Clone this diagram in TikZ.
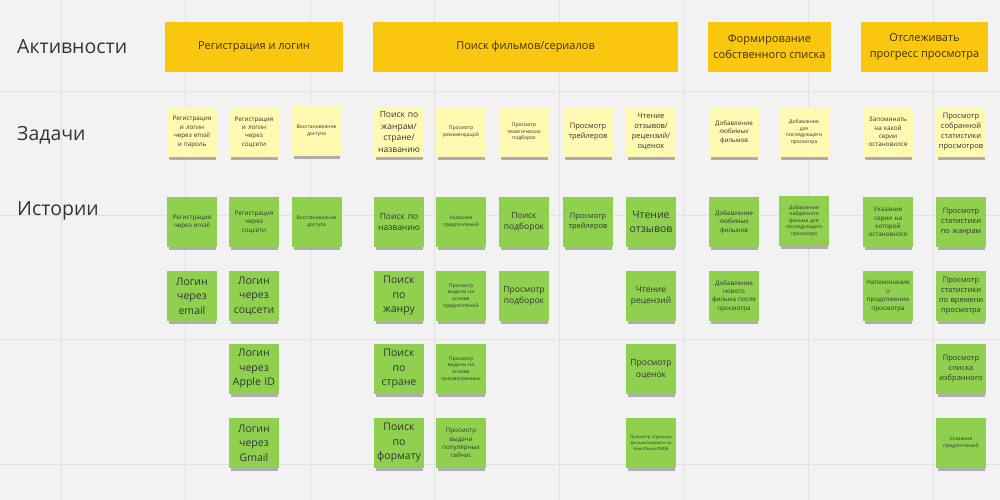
\documentclass[tikz,border=0pt]{standalone}
\usepackage{fontspec}
\setmainfont{Open Sans}
\usetikzlibrary{shadows}

\definecolor{board}{HTML}{F2F2F2}
\definecolor{gridline}{HTML}{E2E2E2}
\definecolor{activity}{HTML}{FAC710}
\definecolor{task}{HTML}{FFF9B1}
\definecolor{story}{HTML}{8FD14F}
\definecolor{ink}{HTML}{333333}

\tikzset{
  lane/.style={font=\fontsize{19.5}{22}\selectfont, text=ink, anchor=west, inner sep=0pt},
  activitybox/.style={fill=activity, text=black!75!activity, align=center,
    font=\fontsize{11}{16}\selectfont, minimum height=50pt, inner sep=0pt},
  note/.style={minimum width=50pt, minimum height=50pt, text width=48pt,
    align=center, inner sep=0pt, text=ink,
    drop shadow={shadow xshift=0.5pt, shadow yshift=-5pt, shadow scale=0.93,
      fill=black, opacity=.28}},
  tasknote/.style={note, fill=task},
  storynote/.style={note, fill=story},
  fxl/.style={font=\fontsize{10.5}{14.5}\selectfont},
  fl/.style={font=\fontsize{8.5}{11.5}\selectfont},
  fm/.style={font=\fontsize{7.5}{10}\selectfont},
  fs/.style={font=\fontsize{6.3}{8.4}\selectfont},
  fxs/.style={font=\fontsize{5}{6.6}\selectfont},
  fxxs/.style={font=\fontsize{4.2}{6}\selectfont},
}

\begin{document}
\begin{tikzpicture}[x=1pt, y=-1pt]
  \fill[board] (0,0) rectangle (1000,500);
  \useasboundingbox (0,0) rectangle (1000,500);
  \foreach \gx in {61,185.6,310.2,434.8,559.4,684,808.6,933.2}
    \draw[gridline, line width=0.8pt] (\gx,0) -- (\gx,500);
  \foreach \gy in {91,215,339,464}
    \draw[gridline, line width=0.8pt] (0,\gy) -- (1000,\gy);

  % lanes
  \node[lane] (activities) at (17,47) {Активности};
  \node[lane] (tasks) at (17,135) {Задачи};
  \node[lane] (stories) at (17,211) {Истории};

  % activities
  \node[activitybox, minimum width=178pt] (login) at (254,47) {Регистрация и логин};
  \node[activitybox, minimum width=305pt] (search) at (525.5,47) {Поиск фильмов/сериалов};
  \node[activitybox, minimum width=123pt] (mylist) at (769.5,47) {Формирование\\собственного списка};
  \node[activitybox, minimum width=127pt] (progress) at (924.5,47) {Отслеживать\\прогресс просмотра};

  % tasks
  \node[tasknote, fs] (t1) at (192,132) {Регистрация\\и логин\\через email\\и пароль};
  \node[tasknote, fs] (t2) at (254,132) {Регистрация\\и логин\\через\\соцсети};
  \node[tasknote, fxs] (t3) at (316.5,131) {Восстановление\\доступа};
  \node[tasknote, fl] (t4) at (399,132) {Поиск по\\жанрам/\\стране/\\названию};
  \node[tasknote, fxs] (t5) at (461,132) {Просмотр\\рекомендаций};
  \node[tasknote, fxs] (t6) at (524,132) {Просмотр\\тематических\\подборок};
  \node[tasknote, fm] (t7) at (588,132) {Просмотр\\трейлеров};
  \node[tasknote, fm] (t8) at (651,132) {Чтение\\отзывов/\\рецензий/\\оценок};
  \node[tasknote, fs] (t9) at (734,132) {Добавление\\любимых\\фильмов};
  \node[tasknote, fxs] (t10) at (804,132) {Добавление\\для\\последующего\\просмотра};
  \node[tasknote, fs] (t11) at (888,132) {Запоминать\\на какой\\серии\\остановился};
  \node[tasknote, fm] (t12) at (961,132) {Просмотр\\собранной\\статистики\\просмотров};

  % stories, first row
  \node[storynote, fs] (s1a) at (192,222) {Регистрация\\через email};
  \node[storynote, fs] (s2a) at (254,222) {Регистрация\\через\\соцсети};
  \node[storynote, fxs] (s3a) at (316.5,222) {Восстановление\\доступа};
  \node[storynote, fl] (s4a) at (399,222) {Поиск по\\названию};
  \node[storynote, fxs] (s5a) at (461,222) {Указание\\предпочтений};
  \node[storynote, fl] (s6a) at (524,222) {Поиск\\подборок};
  \node[storynote, fm] (s7a) at (588,222) {Просмотр\\трейлеров};
  \node[storynote, fxl] (s8a) at (651,222) {Чтение\\отзывов};
  \node[storynote, fs] (s9a) at (734,222) {Добавление\\любимых\\фильмов};
  \node[storynote, fxs] (s10a) at (804,221) {Добавление\\найденного\\фильма для\\последующего\\просмотра};
  \node[storynote, fs] (s11a) at (888,222) {Указание\\серии на\\которой\\остановился};
  \node[storynote, fm] (s12a) at (961,222) {Просмотр\\статистики\\по жанрам};

  % stories, second row
  \node[storynote, fxl] (s1b) at (192,296) {Логин\\через\\email};
  \node[storynote, fxl] (s2b) at (254,296) {Логин\\через\\соцсети};
  \node[storynote, fxl] (s4b) at (399,296) {Поиск\\по\\жанру};
  \node[storynote, fxs] (s5b) at (461,296) {Просмотр\\выдачи на\\основе\\предпочтений};
  \node[storynote, fl] (s6b) at (524,296) {Просмотр\\подборок};
  \node[storynote, fl] (s8b) at (651,296) {Чтение\\рецензий};
  \node[storynote, fs] (s9b) at (734,296) {Добавление\\нового\\фильма после\\просмотра};
  \node[storynote, fs] (s11b) at (888,296) {Напоминание\\о\\продолжении\\просмотра};
  \node[storynote, fm] (s12b) at (961,296) {Просмотр\\статистики\\по времени\\просмотра};

  % stories, third row
  \node[storynote, fxl] (s2c) at (254,369) {Логин\\через\\Apple ID};
  \node[storynote, fxl] (s4c) at (399,369) {Поиск\\по\\стране};
  \node[storynote, fxs] (s5c) at (461,369) {Просмотр\\выдачи на\\основе\\просмотренных};
  \node[storynote, fl] (s8c) at (651,369) {Просмотр\\оценок};
  \node[storynote, fm] (s12c) at (961,369) {Просмотр\\списка\\избранного};

  % stories, fourth row
  \node[storynote, fxl] (s2d) at (254,443) {Логин\\через\\Gmail};
  \node[storynote, fxl] (s4d) at (399,443) {Поиск\\по\\формату};
  \node[storynote, fs] (s5d) at (461,443) {Просмотр\\выдачи\\популярных\\сейчас};
  \node[storynote, fxxs] (s8d) at (651,443) {Просмотр страницы\\фильма/сериала на\\КиноПоиск/IMDb};
  \node[storynote, fxs] (s12d) at (961,443) {Указание\\предпочтений};
\end{tikzpicture}
\end{document}
